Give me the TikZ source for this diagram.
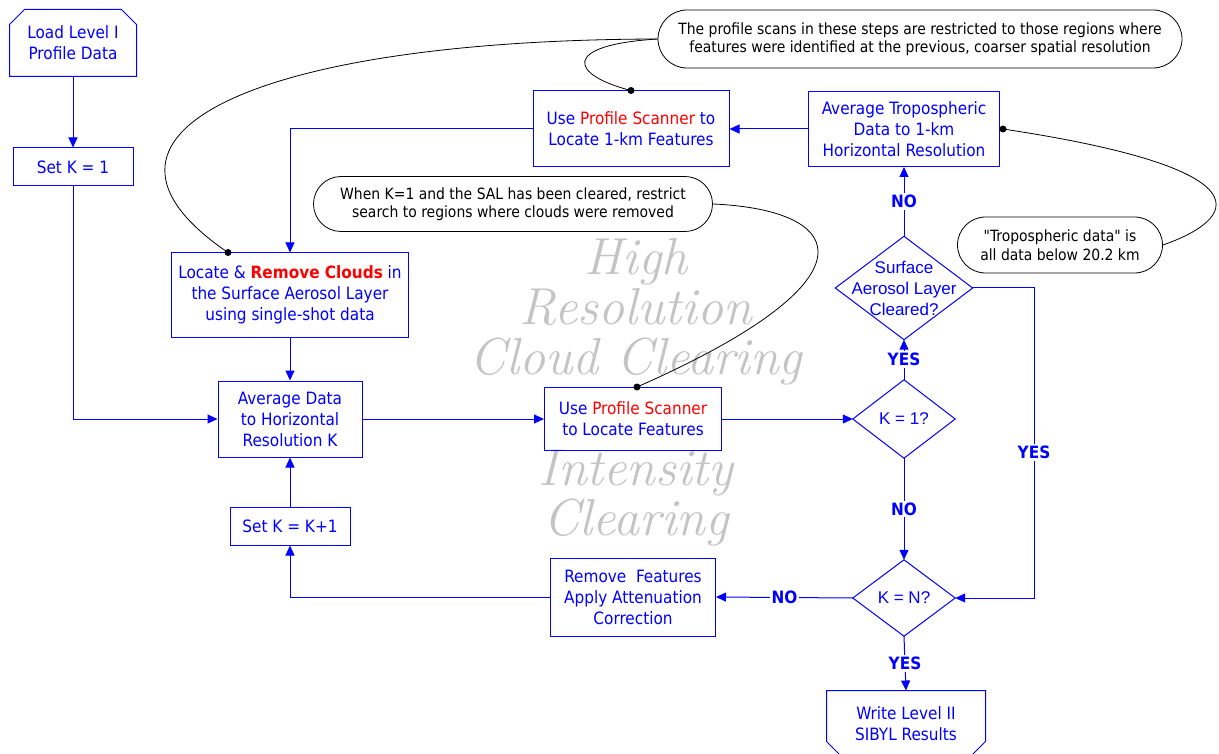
\documentclass[tikz,border=0pt]{standalone}
\usepackage{fontspec}
\usetikzlibrary{arrows.meta,shapes.misc}
\newfontfamily\tahoma{DejaVu Sans Condensed}
\newfontfamily\arialfont{Liberation Sans}

\tikzset{
  flow/.style={blue,line width=1pt},
  arr/.style={flow,-{Triangle[length=10pt,width=9pt]}},
  box/.style={draw=blue,line width=1pt,text=blue,align=center,inner sep=0pt,
    font=\tahoma\fontsize{17}{21}\selectfont},
  term/.style={box,draw=none},
  dec/.style={text=blue,align=center,inner sep=0pt,
    font=\arialfont\fontsize{17}{21}\selectfont},
  lbl/.style={fill=white,text=blue,inner sep=2pt,
    font=\tahoma\bfseries\fontsize{17}{20}\selectfont},
  note/.style={draw=black,rounded rectangle,line width=0.8pt,align=center,inner sep=0pt,
    font=\tahoma\fontsize{15.5}{18.5}\selectfont},
  link/.style={black,line width=0.8pt},
  wmark/.style={text=black!23,align=center,
    font=\rmfamily\itshape\fontsize{52}{50}\selectfont},
}

\begin{document}
\begin{tikzpicture}[x=1pt,y=-1pt]
  \useasboundingbox (0,0) rectangle (1219,754);

  % background titles
  \node[wmark] (hires) at (636,312) {High\\Resolution\\Cloud Clearing};
  \node[wmark] (intens) at (636,498) {Intensity\\Clearing};

  % flow chart
  \node[term,minimum width=126pt,minimum height=66pt] (load) at (73,43) {Load Level I\\Profile Data};
  \draw[flow] (load.south west) -- ([yshift=-15pt]load.north west) -- ([xshift=15pt]load.north west)
    -- ([xshift=-15pt]load.north east) -- ([yshift=-15pt]load.north east) -- (load.south east) -- cycle;
  \node[box,minimum width=120pt,minimum height=38pt] (setone) at (73,167) {Set K = 1};
  \node[box,minimum width=237pt,minimum height=84pt] (clouds) at (290,295)
    {Locate \& \textbf{\textcolor{red}{Remove Clouds}} in\\the Surface Aerosol Layer\\using single-shot data};
  \node[box,minimum width=144pt,minimum height=76pt] (avgk) at (290,419) {Average Data\\to Horizontal\\Resolution K};
  \node[box,minimum width=120pt,minimum height=38pt] (setnext) at (290,526) {Set K = K+1};
  \node[box,minimum width=177pt,minimum height=63pt] (scan) at (633,419)
    {Use \textcolor{red}{Profile Scanner}\\to Locate Features};
  \node[box,minimum width=196pt,minimum height=76pt] (scankm) at (631,129)
    {Use \textcolor{red}{Profile Scanner} to\\Locate 1-km Features};
  \node[box,minimum width=191pt,minimum height=75pt] (avgtrop) at (904,129)
    {Average Tropospheric\\Data to 1-km\\Horizontal Resolution};
  \node[box,minimum width=165pt,minimum height=78pt] (remove) at (633,597)
    {Remove~~Features\\Apply Attenuation\\Correction};

  \node[dec,minimum width=137pt,minimum height=103pt] (sal) at (904,288) {Surface\\Aerosol Layer\\Cleared?};
  \node[dec,minimum width=102pt,minimum height=78pt] (kone) at (904,419) {K = 1?};
  \node[dec,minimum width=102pt,minimum height=76pt] (kn) at (904,598) {K = N?};
  \foreach \d in {sal,kone,kn}
    \draw[flow] (\d.north) -- (\d.east) -- (\d.south) -- (\d.west) -- cycle;

  \node[term,minimum width=158pt,minimum height=65pt] (write) at (906,723.5) {Write Level II\\SIBYL Results};
  \draw[flow] (write.north west) -- ([yshift=15pt]write.south west) -- ([xshift=15pt]write.south west)
    -- ([xshift=-15pt]write.south east) -- ([yshift=15pt]write.south east) -- (write.north east) -- cycle;

  \draw[arr] (load.south) -- (setone.north);
  \draw[arr] (setone.south) |- (avgk.west);
  \draw[arr] (scankm.west) -| (clouds.north);
  \draw[arr] (clouds.south) -- (avgk.north);
  \draw[arr] (avgk.east) -- (scan.west);
  \draw[arr] (scan.east) -- (kone.west);
  \draw[arr] (kone.south) -- node[lbl] {NO} (kn.north);
  \draw[arr] (kone.north) -- node[lbl] {YES} (sal.south);
  \draw[arr] (sal.north) -- node[lbl] {NO} (avgtrop.south);
  \draw[arr] (avgtrop.west) -- (scankm.east);
  \coordinate (yesturn) at (1034,288);
  \draw[arr] (sal.east) -- (yesturn) |- node[lbl,pos=0.265] {YES} (kn.east);
  \draw[arr] (kn.west) -- node[lbl] {NO} (remove.east);
  \draw[arr] (remove.west) -| (setnext.south);
  \draw[arr] (setnext.north) -- (avgk.south);
  \draw[arr] (kn.south) -- node[lbl] {YES} (write.north);

  % notes
  \node[note,minimum width=524pt,minimum height=58pt] (scannote) at (920,39)
    {The profile scans in these steps are restricted to those regions where\\features were identified at the previous, coarser spatial resolution};
  \node[note,minimum width=399pt,minimum height=55pt] (salnote) at (513,204)
    {When K=1 and the SAL has been cleared, restrict\\search to regions where clouds were removed};
  \node[note,minimum width=205pt,minimum height=56pt] (tropnote) at (1060,245)
    {"Tropospheric data" is\\all data below 20.2 km};

  \coordinate (cloudsdot) at ([xshift=-62pt]clouds.north);
  \coordinate (kmdot) at (scankm.north);
  \coordinate (scandot) at ([xshift=4pt]scan.north);
  \coordinate (tropdot) at ([xshift=3pt]avgtrop.east);
  \draw[link] (scannote.west) .. controls (250,40) and (55,135) .. (cloudsdot);
  \draw[link] (scannote.west) .. controls (560,45) and (570,75) .. (kmdot);
  \draw[link] (salnote.east) .. controls (850,210) and (880,280) .. (scandot);
  \draw[link] (tropnote.east) .. controls (1235,220) and (1275,170) .. (tropdot);
  \foreach \p in {cloudsdot,kmdot,scandot,tropdot}
    \fill (\p) circle (3.5pt);
\end{tikzpicture}
\end{document}
